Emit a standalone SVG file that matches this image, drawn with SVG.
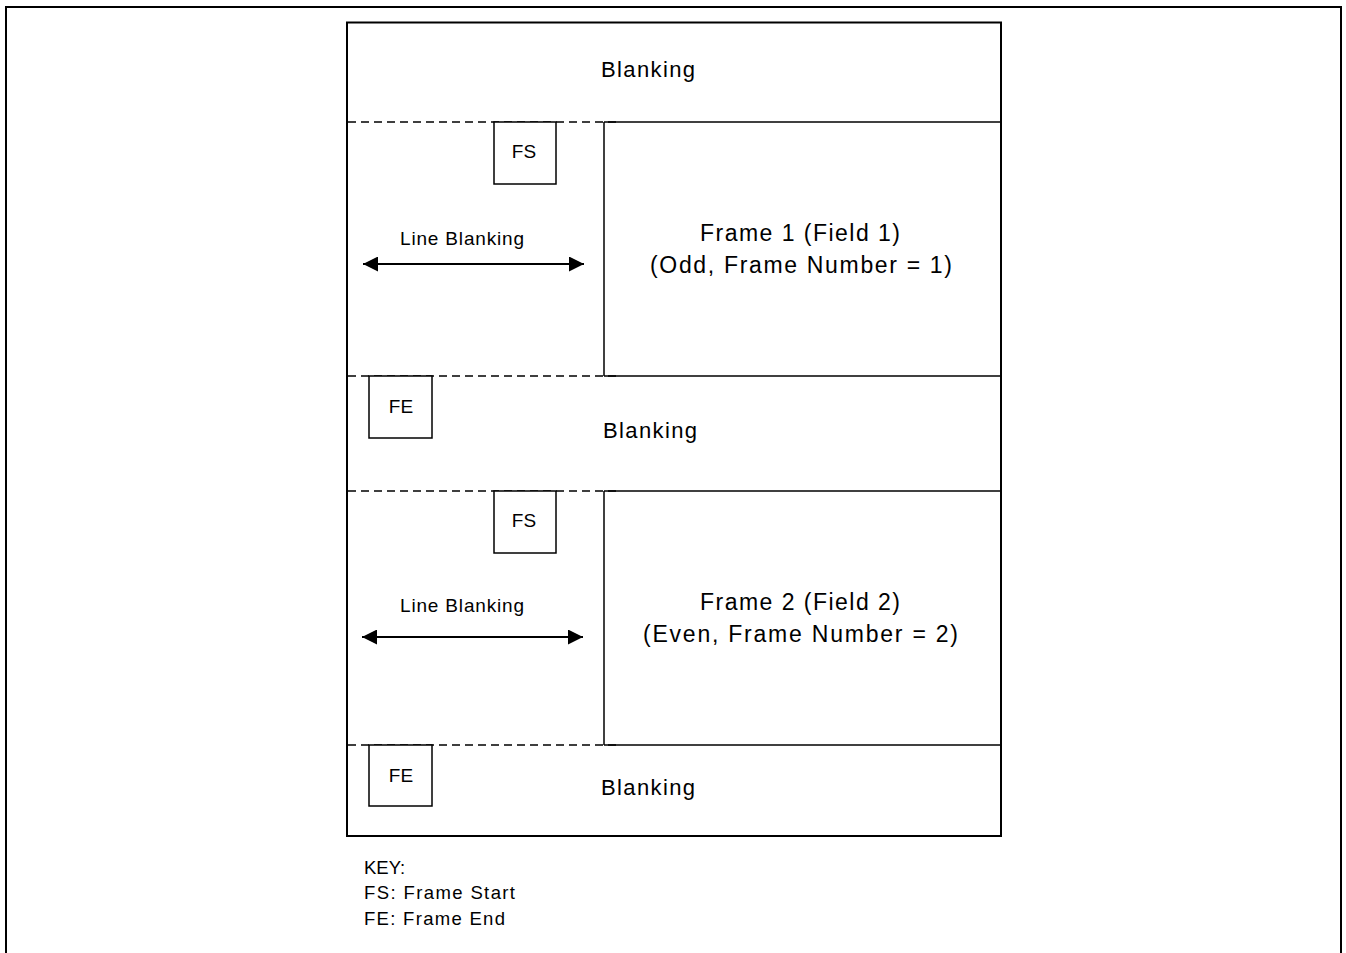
<svg xmlns="http://www.w3.org/2000/svg" width="1346" height="953" viewBox="0 0 1346 953">
<style>
.t{font-family:"Liberation Sans",Arial,sans-serif;fill:#000}
.b{font-size:22px}
.f{font-size:23px}
.l{font-size:19px}
.k{font-size:18.5px}
.box{fill:#fff;stroke:#000;stroke-width:1.5}
.sol{stroke:#000;stroke-width:1.5;fill:none}
.dash{stroke:#000;stroke-width:1.6;stroke-dasharray:8 5;fill:none}
</style>
<defs>
<marker id="ah" markerWidth="15" markerHeight="15" refX="15" refY="7.5" orient="auto-start-reverse" markerUnits="userSpaceOnUse">
<path d="M0,0 L15,7.5 L0,15 Z" fill="#000"/>
</marker>
</defs>
<rect width="1346" height="953" fill="#fff"/>
<path d="M6,953 V7 H1341 V953" fill="none" stroke="#000" stroke-width="2"/>
<g id="frame">
<rect x="347" y="22.5" width="654" height="813.5" fill="none" stroke="#000" stroke-width="2"/>
</g>
<g id="connectors">
<line class="dash" x1="348" y1="122" x2="620" y2="122"/>
<line class="sol" x1="604" y1="122" x2="1001" y2="122"/>
<line class="sol" x1="604" y1="122" x2="604" y2="376"/>
<line class="dash" x1="348" y1="376" x2="620" y2="376"/>
<line class="sol" x1="604" y1="376" x2="1001" y2="376"/>
<line class="dash" x1="348" y1="491" x2="620" y2="491"/>
<line class="sol" x1="604" y1="491" x2="1001" y2="491"/>
<line class="sol" x1="604" y1="491" x2="604" y2="745"/>
<line class="dash" x1="348" y1="745" x2="620" y2="745"/>
<line class="sol" x1="604" y1="745" x2="1001" y2="745"/>
<line x1="363" y1="264" x2="584" y2="264" stroke="#000" stroke-width="2" marker-start="url(#ah)" marker-end="url(#ah)"/>
<line x1="362" y1="637" x2="583" y2="637" stroke="#000" stroke-width="2" marker-start="url(#ah)" marker-end="url(#ah)"/>
</g>
<g id="blank1"><text class="t b" x="601" y="77" textLength="94" lengthAdjust="spacing">Blanking</text></g>
<g id="fs1"><rect class="box" x="494" y="122" width="62" height="62"/><text class="t l" x="524" y="158" text-anchor="middle">FS</text></g>
<g id="lb1"><text class="t l" x="400" y="245" textLength="124" lengthAdjust="spacing">Line Blanking</text></g>
<g id="frame1">
<text class="t f" x="700" y="241" textLength="200" lengthAdjust="spacing">Frame 1 (Field 1)</text>
<text class="t f" x="650" y="273" textLength="302" lengthAdjust="spacing">(Odd, Frame Number = 1)</text>
</g>
<g id="fe1"><rect class="box" x="369" y="376" width="63" height="62"/><text class="t l" x="401" y="413" text-anchor="middle">FE</text></g>
<g id="blank2"><text class="t b" x="603" y="438" textLength="94" lengthAdjust="spacing">Blanking</text></g>
<g id="fs2"><rect class="box" x="494" y="491" width="62" height="62"/><text class="t l" x="524" y="527" text-anchor="middle">FS</text></g>
<g id="lb2"><text class="t l" x="400" y="612" textLength="124" lengthAdjust="spacing">Line Blanking</text></g>
<g id="frame2">
<text class="t f" x="700" y="610" textLength="200" lengthAdjust="spacing">Frame 2 (Field 2)</text>
<text class="t f" x="643" y="642" textLength="315" lengthAdjust="spacing">(Even, Frame Number = 2)</text>
</g>
<g id="fe2"><rect class="box" x="369" y="745" width="63" height="61"/><text class="t l" x="401" y="782" text-anchor="middle">FE</text></g>
<g id="blank3"><text class="t b" x="601" y="795" textLength="94" lengthAdjust="spacing">Blanking</text></g>
<g id="key">
<text class="t k" x="364" y="874">KEY:</text>
<text class="t k" x="364" y="899" textLength="151" lengthAdjust="spacing">FS: Frame Start</text>
<text class="t k" x="364" y="925" textLength="141" lengthAdjust="spacing">FE: Frame End</text>
</g>
</svg>
